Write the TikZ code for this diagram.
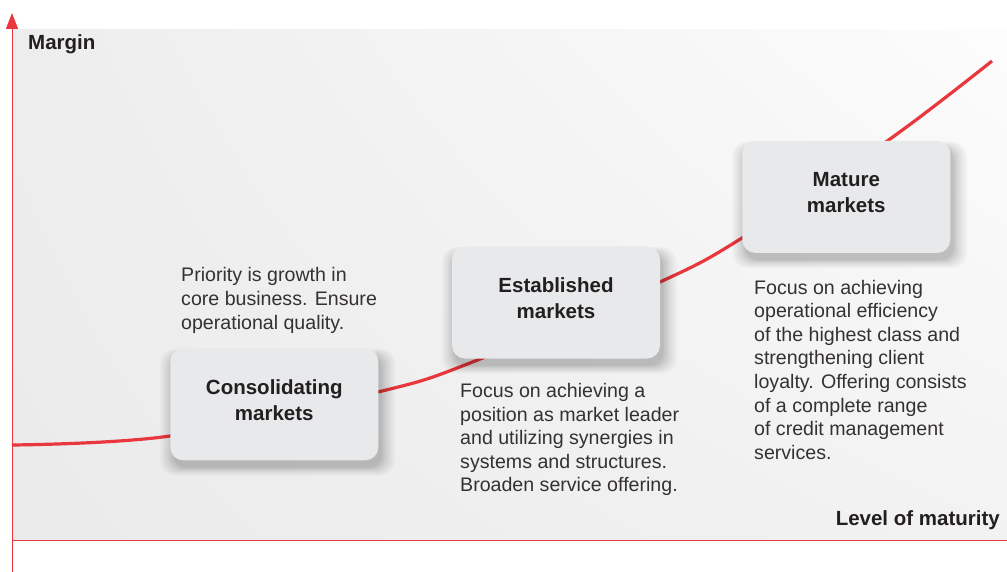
\documentclass[tikz,border=0pt]{standalone}
\usepackage{fontspec}
\setmainfont{Liberation Sans}
\usetikzlibrary{arrows.meta,shadings,shadows}

\definecolor{axisred}{HTML}{E8373D}
\definecolor{boxgray}{HTML}{E8E9EB}
\definecolor{ink}{HTML}{231F20}

\begin{document}
\begin{tikzpicture}[x=1pt,y=-1pt,>={Triangle[length=16pt,width=12pt]},
    haze/.style={general shadow={fill=black,opacity=.018,shadow xshift=3pt,shadow yshift=-7pt,shadow scale=#1}},
    market/.style={rounded corners=13pt,fill=boxgray,minimum width=208pt,minimum height=112pt,
      align=center,text=ink,font=\fontsize{20.5}{26}\selectfont\bfseries,
      execute at end node={\rule[-9pt]{0pt}{0pt}},
      haze=1.13,haze=1.115,haze=1.10,haze=1.085,haze=1.07,haze=1.057,haze=1.045,
      haze=1.034,haze=1.024,haze=1.015,haze=1.007,haze=1.0},
    note/.style={anchor=north west,inner sep=0pt,align=left,text=ink!92,
      font=\fontsize{19.6}{23.6}\selectfont},
    axislabel/.style={inner sep=0pt,text=ink,font=\fontsize{20.5}{24}\selectfont\bfseries}]
    \useasboundingbox (0,0) rectangle (1007,572);

    % backdrop of the chart area
    \shade[upper left=black!7,lower left=black!8,upper right=black!1,lower right=black!5]
      (12,30) rectangle (1007,540);

    % axes
    \coordinate (origin) at (12,540);
    \coordinate (ybottom) at (12,572);
    \coordinate (ytop) at (12,13);
    \coordinate (xend) at (1018,540);
    \draw[axisred,line width=1pt] (origin) -- (xend);
    \draw[axisred,line width=1pt,->] (ybottom) -- (ytop);
    \node[axislabel,anchor=base west] (margin) at (28,50) {Margin};
    \node[axislabel,anchor=base east] (maturity) at (1000,525) {Level of maturity};

    % growth curve, passing behind the boxes
    \draw[axisred,line width=3.2pt] plot[smooth,tension=0.55] coordinates
      {(12,445) (170,436) (378,392) (470,363) (660,282) (742,238) (890,139) (992,61)};

    % the three stages
    \node[market] (consolidating) at (274.3,404.3) {Consolidating\\markets};
    \node[market] (established) at (556,302.5) {Established\\markets};
    \node[market] (mature) at (846.3,196.9) {Mature\\markets};

    \node[note] (consnote) at (181,267.4) {Priority is growth in\\core business. Ensure\\operational quality.};
    \node[note] (estabnote) at (460,383) {Focus on achieving a\\position as market leader\\and utilizing synergies in\\systems and structures.\\Broaden service offering.};
    \node[note] (maturenote) at (754,279.7) {Focus on achieving\\operational efficiency\\of the highest class and\\strengthening client\\loyalty. Offering consists\\of a complete range\\of credit management\\services.};
  \end{tikzpicture}
\end{document}
